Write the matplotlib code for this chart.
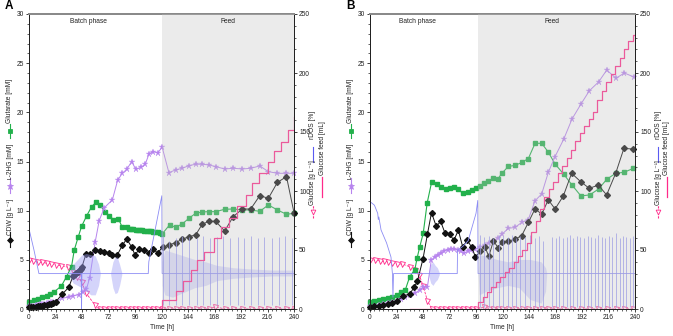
import matplotlib
matplotlib.use('Agg')
import matplotlib.pyplot as plt
from matplotlib.lines import Line2D
from matplotlib.ticker import MultipleLocator

plt.rcParams['font.family'] = ['Liberation Sans', 'DejaVu Sans']
FS = 4.8

# ---------------- Panel A data ----------------
tA_cdw = [0, 2, 4, 6, 8, 10, 12, 14, 16, 18, 20, 22, 24, 30, 36, 40, 41, 42, 43, 44, 45, 46, 47, 48,
          51.5, 55, 60, 64, 68, 72, 75.5, 80, 84.5, 88.5, 93, 96, 100, 104, 108.5, 112.4, 116.4,
          121, 126.7, 132.7, 138.8, 144.8, 150.9, 156.9, 163, 169, 177.2, 185, 193.2, 200.8, 209,
          216.8, 225, 233.2, 240]
cdwA = [0.2, 0.2, 0.25, 0.25, 0.3, 0.3, 0.35, 0.4, 0.45, 0.5, 0.55, 0.6, 0.7, 1.5, 2.2, 3.4, 3.5, 3.6,
        3.7, 3.8, 3.9, 4.0, 4.1, 4.3, 5.56, 5.56, 5.97, 5.86, 5.76, 5.7, 5.5, 5.5, 6.47, 7.12, 6.3, 5.5,
        6.1, 5.97, 5.7, 6.1, 5.7, 6.27, 6.51, 6.75, 7.09, 7.36, 7.53, 8.62, 8.92, 8.92, 7.94, 9.4,
        10.17, 10.17, 11.53, 11.26, 12.88, 13.46, 9.8]

tA_hg = [0, 2, 4, 6, 8, 10, 12, 14, 16, 18, 20, 22, 24, 30, 36, 40, 45, 48.5, 52, 55, 60, 63.6, 68.2,
         75.5, 80.3, 84.5, 88.5, 93, 96.7, 101.2, 105.2, 108.8, 112.7, 116.7, 120.6,
         126.7, 132.7, 138.8, 144.8, 150.9, 156.9, 163, 169, 177.2, 185, 193.2, 200.8, 209, 216.8,
         225, 233.2, 240]
hgA = [0.3, 0.3, 0.35, 0.4, 0.45, 0.5, 0.55, 0.55, 0.6, 0.65, 0.7, 0.72, 0.75, 1.1, 1.2, 1.35, 1.45,
       1.7, 2.0, 3.2, 6.85, 9.0, 10.3, 11.1, 13.1, 13.8, 14.2, 15.0, 14.2, 14.4, 14.7, 15.8, 16.0, 15.9,
       16.45, 13.87, 14.14, 14.31, 14.58, 14.72, 14.72, 14.65, 14.48, 14.24, 14.31, 14.24, 14.31,
       14.55, 13.97, 13.8, 13.8, 13.8]

tA_glu = [0, 4.5, 8, 12, 16, 19, 23, 29.4, 34, 38.5, 41, 44.5, 47.6, 52.1, 56.7, 60.6, 64.2, 68.8,
          72.4, 76.4, 80.9, 84.5, 88.5, 90.5, 92.5, 94.5, 96.5, 98.5, 100.5, 102.5, 104.5, 106.5,
          108.5, 110.5, 112.5, 114.5, 116.5, 118.5, 120.6, 127.3, 132.7, 138.8, 144.8, 150.9, 156.9,
          163, 169, 177.2, 185, 193.2, 200.8, 209, 216.8, 225, 233.2, 240]
gluA = [0.75, 0.88, 1.0, 1.19, 1.36, 1.56, 1.76, 2.35, 3.3, 4.3, 6.0, 7.3, 8.4, 9.45, 10.4, 10.85,
        10.6, 9.9, 9.5, 9.1, 9.2, 8.3, 8.3, 8.15, 8.1, 8.1, 8.05, 8.05, 8.0, 8.0, 7.95, 7.95, 7.9, 7.9,
        7.85, 7.8, 7.8, 7.75, 7.63, 8.55, 8.31, 8.65, 9.22, 9.73, 9.87, 9.9, 9.9, 10.14, 10.17, 10.07,
        10.07, 9.93, 10.58, 10.07, 9.63, 9.73]

tA_gluc = [0, 4, 8, 12, 16, 20, 24, 29.4, 35.5, 40, 43.9, 47.6, 51.5, 59.7, 64, 68, 72, 76, 80, 84,
           88, 92, 96, 100, 104, 108, 112, 116, 120.6, 126.7, 132.7, 138.8, 144.8, 150.9, 156.9,
           163, 168.8, 177.2, 185, 193.2, 200.8, 209, 216.8, 225, 233.2, 240]
glucA = [4.95, 4.85, 4.8, 4.75, 4.65, 4.6, 4.5, 4.41, 4.24, 3.8, 3.29, 2.78, 1.66, 0.4, 0, 0, 0, 0, 0,
         0, 0, 0, 0, 0, 0, 0, 0, 0, 0, 0, 0, 0, 0, 0, 0, 0, 0.24, 0, 0, 0, 0, 0, 0, 0, 0, 0]

tA_feed = [60, 120.5, 132.7, 139.7, 146.4, 152.4, 158.5, 167.6, 173.6, 181.2, 188.8, 196.4, 202.4,
           208.5, 216, 222.1, 228.2, 234.2, 240]
feedA = [0, 7.6, 15.5, 23.7, 33.2, 41.6, 48.7, 60.0, 69.8, 76.8, 87.3, 96.6, 106.5, 115.0, 124.3,
         134.2, 141.8, 152.0, 163.0]

tA_do = [0, 4.5, 9, 47.3, 47.6, 47.9, 108, 108.5, 120.3, 120.6, 240]
doA = [68, 50, 30, 30, 0, 30, 30, 40, 96, 30, 30]
bandA1_t = [36, 40, 44, 48, 52, 56, 60, 63, 64.5]
bandA1_lo = [29, 22, 20, 18, 15, 12, 12, 20, 29]
bandA1_hi = [31, 38, 42, 46, 47, 46, 45, 38, 31]
bandA2_t = [74, 76, 78, 80, 82, 84]
bandA2_lo = [29, 18, 13, 14, 20, 29]
bandA2_hi = [31, 40, 44, 44, 38, 31]
bandA3_t = [120.6, 123, 130, 140, 150, 160, 170, 185, 200, 220, 240]
bandA3_lo = [20, 12, 10, 14, 18, 20, 24, 26, 27, 28, 28]
bandA3_hi = [40, 50, 48, 45, 42, 40, 37, 35, 34, 33, 33]
spkA_t = [121, 127, 133, 139, 145, 152, 158, 164, 170, 176, 182, 189, 195, 201, 207, 213, 220, 226,
          232, 238]
spkA_hi = [62, 58, 60, 62, 61, 60, 62, 60, 61, 62, 60, 61, 60, 62, 60, 61, 60, 61, 62, 60]
spkA_lo = 3

# ---------------- Panel B data ----------------
tB_cdw = [0, 4, 8, 12, 16, 20, 24, 30, 36, 40, 43, 48, 52, 55.7, 60, 64, 68, 72, 76, 80, 84, 88, 92,
          95.5, 100, 104, 107.6, 111.8, 115.8, 119.5, 125.3, 131.3, 137.4, 143.4, 149.4, 155.5,
          161.5, 167.6, 175.1, 182.6, 190.8, 198.6, 206.8, 214.3, 222.5, 230, 238.5]
cdwB = [0.25, 0.3, 0.35, 0.45, 0.5, 0.6, 0.8, 1.3, 1.55, 2.2, 2.85, 5.1, 7.6, 9.8, 8.4, 8.9, 7.7, 7.6,
        7.0, 8.0, 6.3, 7.0, 6.3, 5.3, 5.85, 6.35, 5.35, 6.95, 6.25, 6.8, 6.9, 7.1, 7.46, 8.8, 10.17,
        9.66, 11.1, 10.17, 11.5, 13.8, 12.95, 12.27, 12.6, 11.6, 13.8, 16.35, 16.25]

tB_hg = [0, 4, 8, 12, 16, 20, 24, 28, 32, 36, 41, 45, 48.2, 52, 55.5, 58.5, 61.2, 64.2, 67.3, 70.3,
         73.3, 76.4, 79.4, 82.4, 85.5, 88.5, 91.5, 95.5, 99.7, 104, 107.6, 111.8, 115.8, 119.5,
         125.3, 131.3, 137.4, 143.4, 149.4, 155.5, 161.5, 167.6, 175.4, 183, 191.1, 198.7, 207.1,
         214.4, 222.8, 230.4, 238.8]
hgB = [0.3, 0.35, 0.4, 0.5, 0.6, 0.7, 0.8, 1.0, 1.2, 1.45, 1.6, 1.95, 2.2, 2.25, 4.95, 5.3, 5.5, 5.7,
       5.93, 6.03, 6.1, 6.1, 6.03, 5.85, 5.7, 5.85, 6.03, 6.1, 6.3, 6.54, 6.7, 6.95, 7.2, 7.6, 8.2,
       8.3, 8.8, 9.1, 11.0, 11.7, 13.9, 15.5, 17.26, 19.33, 20.85, 22.2, 23.1, 24.3, 23.47, 24.0, 23.6]

tB_glu = [0, 4, 8, 12, 16, 20, 24, 28.5, 32, 36, 40.6, 42.7, 45, 48.2, 51.8, 55.8, 60.3, 64.2, 68.5,
          72.4, 76.4, 80, 84, 88.5, 92.1, 95.8, 99.7, 103.6, 107.3, 111.8, 115.8, 119.4, 125.3, 131.3,
          137.4, 143.4, 149.5, 155.5, 161.5, 167.6, 175.5, 183, 191, 199, 207, 214.5, 222.5, 230,
          238.5]
gluB = [0.7, 0.8, 0.9, 1.0, 1.15, 1.25, 1.4, 1.76, 1.95, 3.3, 4.0, 5.2, 6.3, 7.7, 10.8, 12.9, 12.7,
        12.4, 12.17, 12.27, 12.4, 12.17, 11.76, 11.93, 12.1, 12.34, 12.5, 12.78, 13.05, 13.29, 13.22,
        13.8, 14.5, 14.6, 14.9, 15.3, 16.85, 16.85, 15.95, 14.75, 13.7, 12.6, 11.5, 11.6, 12.2, 13.2,
        13.8, 13.9, 14.3]

tB_gluc = [0, 4.5, 8.8, 12.7, 16.7, 20.3, 24.2, 29.4, 36, 41, 44.5, 48.2, 52, 56, 60, 64, 68, 72, 76,
           80, 84, 88, 92, 96, 103, 107.6, 111.8, 115.8, 119.5, 125.3, 131.3, 137.4, 143.4, 149.4,
           155.5, 161.5, 167.6, 175.1, 182.6, 190.8, 198.6, 206.8, 214.3, 222.5, 230, 238.5]
glucB = [5.0, 4.95, 4.9, 4.85, 4.8, 4.7, 4.6, 4.57, 4.3, 4.0, 3.5, 2.3, 0.85, 0, 0, 0, 0, 0, 0, 0, 0,
         0, 0, 0, 0.17, 0, 0, 0, 0, 0, 0, 0, 0, 0, 0, 0, 0, 0, 0, 0, 0, 0, 0, 0, 0, 0]

tB_feed = [36, 98, 102, 106, 110, 114, 118, 122, 126, 130, 134, 138, 142, 146, 150, 154, 158, 162,
           166, 170, 174, 178, 182, 186, 190, 194, 198, 202, 206, 210, 214, 218, 222, 226, 230, 234,
           238, 240]
feedB = [0, 6, 10, 14.5, 19, 23, 27, 31, 35, 40, 45, 50, 56, 65, 75, 85, 95, 102, 108, 115, 121, 128,
         135, 142, 149, 155, 161, 167, 177, 185, 192, 199, 206, 213, 220, 227, 232, 232]

tB_do = [0, 4, 7, 7.5, 8, 10, 15, 19, 20.3, 20.8, 21.3, 79, 79.3, 84, 89, 92, 96, 97.6, 97.9, 240]
doB = [91, 88, 81, 76, 78, 67, 56, 44, 30, 10, 30, 30, 50, 53, 58, 68, 81, 92, 30, 30]
bandB1_t = [53, 55, 57, 59, 61, 62.7]
bandB1_lo = [29, 22, 20, 23, 25, 29]
bandB1_hi = [31, 38, 40, 37, 35, 31]
bandB2_t = [97.9, 99, 105, 115, 125, 135, 145, 155, 159, 160]
bandB2_lo = [29, 12, 15, 18, 20, 18, 8, 5, 15, 29]
bandB2_hi = [31, 46, 45, 42, 40, 42, 42, 40, 35, 31]
spkB_t = [99.7, 103.6, 108.2, 111.8, 116.4, 120.3, 124.8, 128.5, 132.4, 136.1, 140, 144.5, 149, 153,
          156.7, 165, 168, 171.5, 174.5, 178, 181, 184, 187.5, 190.5, 194, 197, 200, 203.5, 206.5,
          210, 213, 216, 219.5, 222.5, 226, 229, 232, 235.5, 238.5]
spkB_hi = [63, 61, 62, 60, 63, 62, 61, 63, 60, 62, 61, 63, 60, 62, 58, 61, 60, 62, 60, 61, 63, 60, 62,
           61, 60, 62, 61, 60, 63, 61, 60, 62, 61, 64, 60, 62, 61, 60, 62]
spkB_lo = 2

feed_start = {'A': 120, 'B': 97.5}

# ---------------- styling ----------------
C_GREEN = '#22b04b'
C_PURPLE = '#b784ee'
C_BLACK = '#111111'
C_PINK = '#ff2a8a'
C_BLUE = '#8c8cf4'
C_TEXT = '#222222'

W, H = 673, 336
fig = plt.figure(figsize=(W / 100, H / 100), dpi=100)


def add_axes_px(l, r, t, b):
    return fig.add_axes([l / W, 1 - b / H, (r - l) / W, (b - t) / H])


def fx(px):
    return px / W


def fy(py):
    return 1 - py / H


def vtext(px, py, s):
    fig.text(fx(px), fy(py), s, rotation=90, ha='center', va='center', fontsize=FS, color=C_TEXT)


def vkey(px, py0, py1, color, marker=None, ls='-', mfc=None, ms=3.2, lw=0.8):
    fig.add_artist(Line2D([fx(px), fx(px)], [fy(py0), fy(py1)], transform=fig.transFigure,
                          color=color, lw=lw, ls=ls))
    if marker:
        fig.add_artist(Line2D([fx(px)], [fy((py0 + py1) / 2)], transform=fig.transFigure,
                              marker=marker, color=color, mfc=mfc if mfc else color, mec=color,
                              ms=ms, mew=0.6, ls='none'))


def panel(l, r, letter, data):
    ax = add_axes_px(l, r, 14, 309)
    ax2 = ax.twinx()
    ax.set_xlim(0, 240)
    ax.set_ylim(0, 30)
    ax2.set_ylim(0, 250)
    ax.set_xticks(range(0, 241, 24))
    ax.xaxis.set_minor_locator(MultipleLocator(4))
    ax.set_yticks(range(0, 31, 5))
    ax.yaxis.set_minor_locator(MultipleLocator(1))
    ax2.set_yticks(range(0, 251, 50))
    ax2.yaxis.set_minor_locator(MultipleLocator(10))
    for a in (ax, ax2):
        a.tick_params(which='major', direction='out', length=2.2, width=0.6, labelsize=FS,
                      pad=1.5, colors=C_TEXT)
        a.tick_params(which='minor', direction='out', length=1.2, width=0.5, colors=C_TEXT)
        for s in ('left', 'right', 'bottom'):
            a.spines[s].set_linewidth(0.7)
            a.spines[s].set_color(C_TEXT)
        a.spines['top'].set_color('#8a8a8a')
        a.spines['top'].set_linewidth(1.4)
    ax.set_xlabel('Time [h]', fontsize=FS, labelpad=2, color=C_TEXT)

    (t_cdw, cdw, t_hg, hg, t_glu, glu, t_gl, gl, t_fd, fd, t_do, do, bands, spk_t, spk_hi,
     spk_lo, fs) = data

    ax.plot(t_gl, gl, ls=(0, (3, 1.5)), lw=0.6, color=C_PINK, marker='v', ms=3.6, mfc='white',
            mec=C_PINK, mew=0.6, zorder=2)
    ax.plot(t_glu, glu, '-', lw=0.8, color=C_GREEN, marker='s', ms=3.2, mec=C_GREEN, zorder=3,
            clip_on=False)
    ax.plot(t_hg, hg, '-', lw=0.7, color=C_PURPLE, marker='*', ms=4.8, mec=C_PURPLE, mew=0.2,
            zorder=3, clip_on=False)
    ax.plot(t_cdw, cdw, '-', lw=0.7, color=C_BLACK, marker='D', ms=3.0, mec=C_BLACK, zorder=4,
            clip_on=False)

    for bt, blo, bhi in bands:
        big = bt[0] >= 90
        ax2.fill_between(bt, blo, bhi, color='#a0a0f6', alpha=0.35 if big else 0.45, lw=0,
                         zorder=1)
    ax2.plot(t_do, do, '-', lw=0.6, color=C_BLUE, zorder=2)
    ax2.vlines(spk_t, spk_lo, spk_hi, color=C_BLUE, lw=0.5, zorder=2)
    ax2.plot(t_fd, fd, drawstyle='steps-post', lw=0.9, color=C_PINK, zorder=3)

    ax2.axvspan(fs, 240, facecolor='#c2c2c2', alpha=0.32, lw=0, zorder=20)
    ax2.text(54 if letter == 'A' else 43, 29.2 * 250 / 30, 'Batch phase', ha='center',
             va='center', fontsize=FS, color=C_TEXT, zorder=30)
    ax2.text(180 if letter == 'A' else 165, 29.2 * 250 / 30, 'Feed', ha='center', va='center',
             fontsize=FS, color=C_TEXT, zorder=30)
    fig.text(fx(l - 24), fy(6), letter, fontsize=8.5, fontweight='bold', ha='left', va='center',
             color='black')
    return ax, ax2


dataA = (tA_cdw, cdwA, tA_hg, hgA, tA_glu, gluA, tA_gluc, glucA, tA_feed, feedA, tA_do, doA,
         [(bandA1_t, bandA1_lo, bandA1_hi), (bandA2_t, bandA2_lo, bandA2_hi),
          (bandA3_t, bandA3_lo, bandA3_hi)], spkA_t, spkA_hi, spkA_lo, feed_start['A'])
dataB = (tB_cdw, cdwB, tB_hg, hgB, tB_glu, gluB, tB_gluc, glucB, tB_feed, feedB, tB_do, doB,
         [(bandB1_t, bandB1_lo, bandB1_hi), (bandB2_t, bandB2_lo, bandB2_hi)],
         spkB_t, spkB_hi, spkB_lo, feed_start['B'])

panel(29, 294, 'A', dataA)
panel(370, 635, 'B', dataB)

# composite axis labels
for xl, xr1, xr2 in ((10, 313, 322), (351, 658, 667)):
    vkey(xl, 247, 232, C_BLACK, 'D', ms=3.0)
    vtext(xl, 217, 'CDW [g L⁻¹]')
    vkey(xl, 193, 178, C_PURPLE, '*', ms=4.6)
    vtext(xl, 161, 'ʟ-2HG [mM]')
    vkey(xl, 138, 124, C_GREEN, 's', ms=3.0)
    vtext(xl, 101, 'Glutarate [mM]')

    vkey(xr1, 218, 205, C_PINK, 'v', ls=(0, (2, 1)), mfc='white', ms=3.4)
    vtext(xr1, 183, 'Glucose [g L⁻¹]')
    vkey(xr1, 162, 147, '#5a5af2', lw=0.8)
    vtext(xr1, 125, 'rDOS [%]')
    vkey(xr2, 197, 177, C_PINK, lw=0.9)
    vtext(xr2, 148, 'Glucose feed [mL]')

fig.savefig('out.png', dpi=100)
